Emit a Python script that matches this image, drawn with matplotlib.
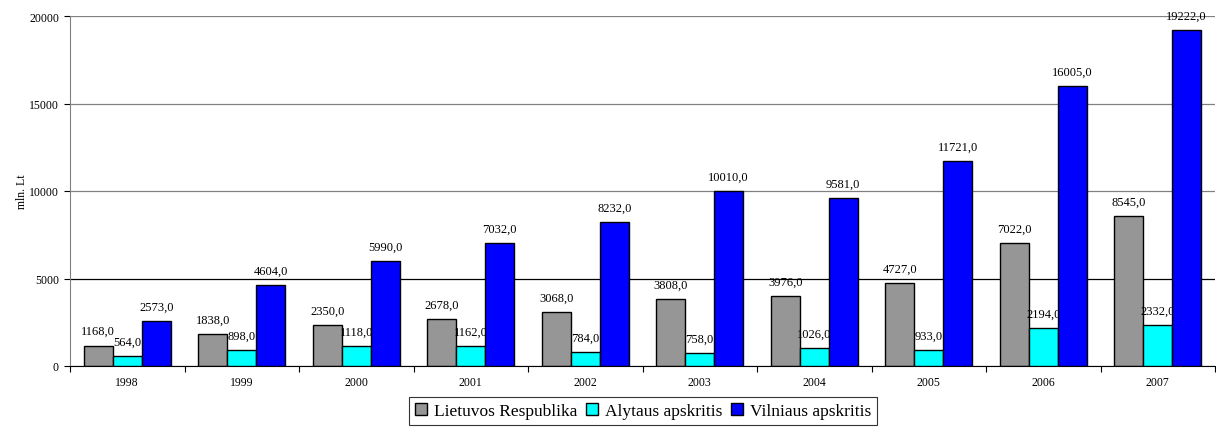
import matplotlib
matplotlib.use("Agg")
import matplotlib.pyplot as plt
import numpy as np

years = ["1998", "1999", "2000", "2001", "2002", "2003", "2004", "2005", "2006", "2007"]
series_names = ["Lietuvos Respublika", "Alytaus apskritis", "Vilniaus apskritis"]
lietuvos = [1168, 1838, 2350, 2678, 3068, 3808, 3976, 4727, 7022, 8545]
alytaus = [564, 898, 1118, 1162, 784, 758, 1026, 933, 2194, 2332]
vilniaus = [2573, 4604, 5990, 7032, 8232, 10010, 9581, 11721, 16005, 19222]
colors = ["#969696", "#00FFFF", "#0000FF"]

plt.rcParams['font.family'] = ['Liberation Serif', 'DejaVu Serif']

fig = plt.figure(figsize=(12.16, 4.31), dpi=100)
ax = fig.add_axes([70/1216, 1-367/431, 1145/1216, 350/431])

x = np.arange(len(years))
w = 0.253
data = [lietuvos, alytaus, vilniaus]
for i, (vals, c, name) in enumerate(zip(data, colors, series_names)):
    pos = x + (i - 1) * w
    ax.bar(pos, vals, width=w, color=c, edgecolor='black', linewidth=1.0,
           label=name, zorder=2 + i)
    for p, v in zip(pos, vals):
        ax.annotate(f"{v},0", (p, v), xytext=(0, 6), textcoords='offset points',
                    ha='center', va='bottom', fontsize=9, zorder=2 + i)

ax.set_xlim(-0.5, len(years) - 0.5)
ax.set_ylim(0, 20000)
ax.set_yticks([0, 5000, 10000, 15000, 20000])
ax.set_yticklabels(["0", "5000", "10000", "15000", "20000"])
ax.set_xticks(x)
ax.set_xticklabels(years)
ax.set_xticks(np.arange(len(years) + 1) - 0.5, minor=True)
ax.tick_params(axis='x', which='major', length=0, labelsize=8.5, pad=7)
ax.tick_params(axis='x', which='minor', length=4, direction='out', width=0.8)
ax.tick_params(axis='y', length=4, direction='out', width=0.8, labelsize=8.5, pad=4)

ax.yaxis.grid(True, color='#808080', linewidth=0.9, zorder=0)
ax.set_axisbelow(True)
gl = ax.get_ygridlines()
if len(gl) > 1:
    gl[1].set_color('black')

for s in ['top', 'right']:
    ax.spines[s].set_visible(False)
ax.spines['left'].set_color('#808080')
ax.spines['bottom'].set_color('black')

ax.set_ylabel("mln. Lt", fontsize=8.5, va='center')
ax.yaxis.set_label_coords(-48/1145, 0.5)

leg = fig.legend(loc='center', bbox_to_anchor=(643/1216, 1-412/431), ncol=3,
                 fontsize=12.5, frameon=True, fancybox=False, handlelength=0.7,
                 handleheight=0.7, handletextpad=0.4, columnspacing=0.5,
                 borderpad=0.35)
leg.get_frame().set_edgecolor('black')
leg.get_frame().set_linewidth(0.8)

fig.savefig("out.png", dpi=100)
